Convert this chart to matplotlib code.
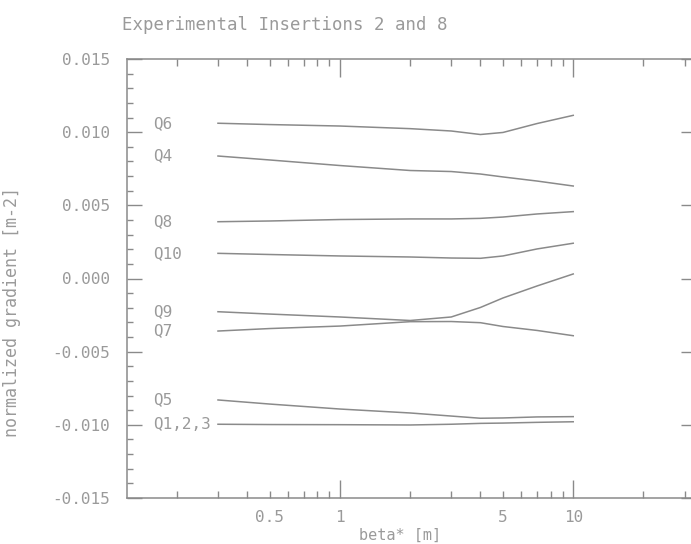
import matplotlib
matplotlib.use("Agg")
import matplotlib.pyplot as plt
from matplotlib.ticker import FixedLocator, FuncFormatter, NullFormatter

# beta* values (m) where the gradients were evaluated
beta = [0.3, 0.5, 1, 2, 3, 4, 5, 7, 10]

# normalized quadrupole gradients (m^-2) for each family
q6 = [0.01061, 0.01052, 0.01042, 0.01024, 0.01008, 0.00984, 0.00998, 0.01059, 0.01115]
q4 = [0.00837, 0.00810, 0.00772, 0.00738, 0.00731, 0.00714, 0.00694, 0.00666, 0.00632]
q8 = [0.00388, 0.00393, 0.00403, 0.00407, 0.00407, 0.00411, 0.00420, 0.00441, 0.00457]
q10 = [0.00172, 0.00164, 0.00154, 0.00147, 0.00140, 0.00138, 0.00154, 0.00202, 0.00241]
q9 = [-0.00227, -0.00243, -0.00263, -0.00287, -0.00263, -0.00198, -0.00133, -0.00051, 0.00031]
q7 = [-0.00359, -0.00342, -0.00325, -0.00295, -0.00294, -0.00302, -0.00328, -0.00355, -0.00391]
q5 = [-0.00830, -0.00858, -0.00892, -0.00919, -0.00940, -0.00955, -0.00953, -0.00946, -0.00944]
q123 = [-0.00996, -0.00998, -0.00999, -0.01001, -0.00996, -0.00990, -0.00988, -0.00983, -0.00979]

series = [("Q6", q6), ("Q4", q4), ("Q8", q8), ("Q10", q10),
          ("Q9", q9), ("Q7", q7), ("Q5", q5), ("Q1,2,3", q123)]

plt.rcParams['font.family'] = 'DejaVu Sans Mono'
plt.rcParams['axes.unicode_minus'] = False

txt = '#9a9a9a'
ink = '#8a8a8a'

fig = plt.figure(figsize=(6.91, 5.44), dpi=100)
# the frame runs a little past the right edge of the page
ax = fig.add_axes([127/691, 46/544, 569/691, 439/544])

for name, vals in series:
    ax.plot(beta, vals, color=ink, lw=1.1)
    ax.text(0.158, vals[0], name, ha='left', va='center', fontsize=11.5, color=txt)

ax.set_xscale('log')
ax.set_xlim(0.1222, 33.6)
ax.set_ylim(-0.015, 0.015)

ax.xaxis.set_major_locator(FixedLocator([1, 10]))
ax.xaxis.set_minor_locator(FixedLocator([0.2, 0.3, 0.4, 0.5, 0.6, 0.7, 0.8, 0.9,
                                         2, 3, 4, 5, 6, 7, 8, 9, 20, 30]))
ax.xaxis.set_major_formatter(FuncFormatter(lambda v, p: f"{v:g}"))
ax.xaxis.set_minor_formatter(FuncFormatter(lambda v, p: f"{v:g}" if v in (0.5, 5) else ""))

ax.set_yticks([-0.015, -0.010, -0.005, 0.0, 0.005, 0.010, 0.015])
ax.yaxis.set_major_formatter(FuncFormatter(lambda v, p: f"{v:.3f}"))
ax.yaxis.set_minor_locator(FixedLocator([i * 0.001 for i in range(-15, 16)]))
ax.yaxis.set_minor_formatter(NullFormatter())

ax.tick_params(axis='x', which='major', direction='in', length=13, width=1,
               color=ink, top=True, labelsize=11.5, labelcolor=txt, pad=9)
ax.tick_params(axis='x', which='minor', direction='in', length=5, width=1,
               color=ink, top=True, labelsize=11.5, labelcolor=txt, pad=9)
ax.tick_params(axis='y', which='major', direction='in', length=11, width=1,
               color=ink, right=True, labelsize=11.5, labelcolor=txt, pad=12)
ax.tick_params(axis='y', which='minor', direction='in', length=4, width=1,
               color=ink, right=False)

for s in ax.spines.values():
    s.set_color(ink)
    s.set_linewidth(1.1)

fig.text(400/691, 1 - 535/544, "beta* [m]", ha='center', va='center',
         fontsize=11, color=txt)
fig.text(12/691, 1 - 312/544, "normalized gradient [m-2]", rotation=90,
         ha='center', va='center', fontsize=12, color=txt)
fig.text(285/691, 1 - 25/544, "Experimental Insertions 2 and 8",
         ha='center', va='center', fontsize=12.5, color=txt)

fig.savefig("out.png", dpi=100)
